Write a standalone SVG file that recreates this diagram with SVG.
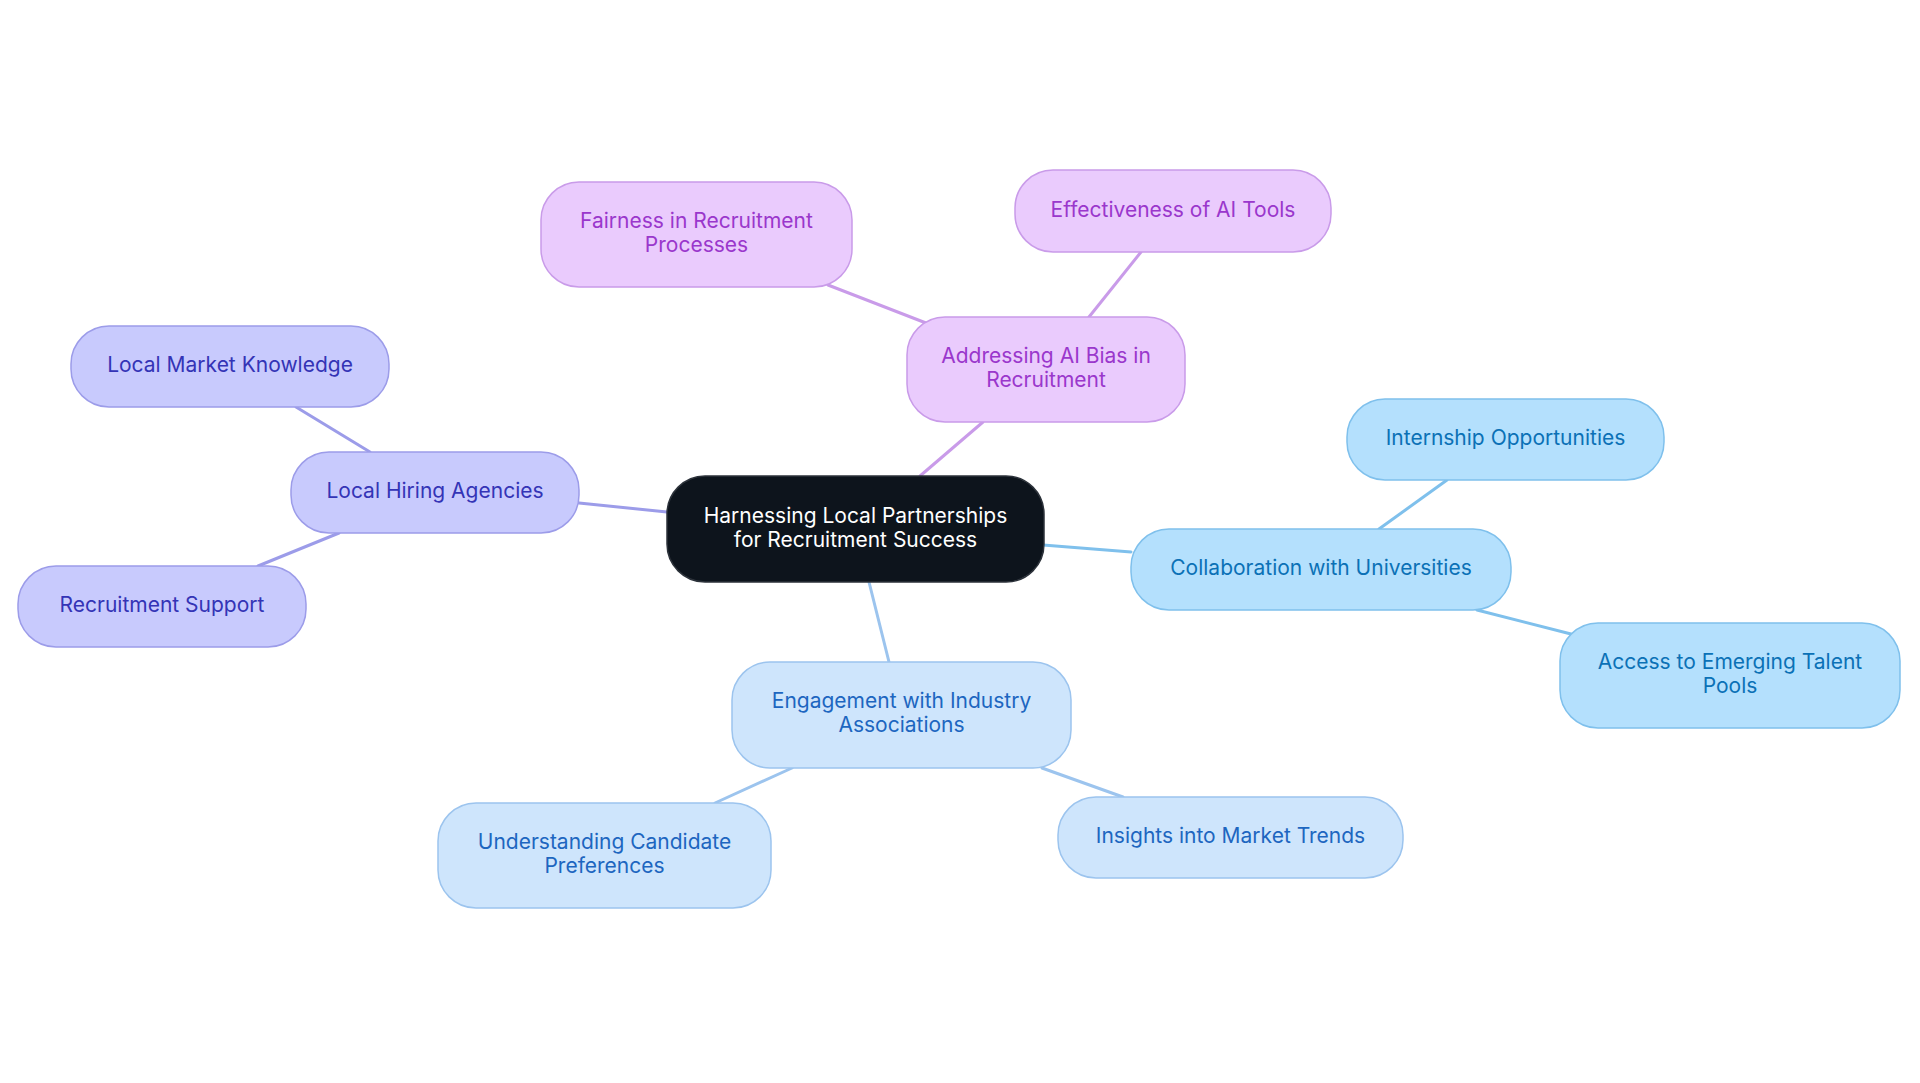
<svg xmlns="http://www.w3.org/2000/svg" width="1920" height="1083" viewBox="0 0 1920 1083">
<style>
text{font-family:Inter,"Noto Sans","Liberation Sans",sans-serif;font-size:21px;text-anchor:middle;dominant-baseline:central}
.c path{fill:none;stroke-width:3;stroke-linecap:round}
.pu rect{fill:#eacbfd;stroke:#c99be9;stroke-width:1.5}
.pu text{fill:#9a37cc}
.la rect{fill:#c8cafd;stroke:#9c9ce9;stroke-width:1.5}
.la text{fill:#3434b6}
.bl rect{fill:#b4e0fd;stroke:#7fc0ec;stroke-width:1.5}
.bl text{fill:#0b71b6}
.pb rect{fill:#cee5fc;stroke:#9cc4ee;stroke-width:1.5}
.pb text{fill:#1d66c0}
.ce rect{fill:#0d141c;stroke:#2c323a;stroke-width:1.5}
.ce text{fill:#ffffff}
</style>
<rect width="1920" height="1083" fill="#ffffff"/>
<g id="connectors" class="c">
<path d="M920,476 L983,422" stroke="#c99be9"/>
<path d="M926,323 L828,285" stroke="#c99be9"/>
<path d="M1089,317 L1141,252" stroke="#c99be9"/>
<path d="M667,512 L579,503" stroke="#9c9ce9"/>
<path d="M370,452 L296,407" stroke="#9c9ce9"/>
<path d="M339,533 L258,566" stroke="#9c9ce9"/>
<path d="M1043,545 L1131,552" stroke="#7fc0ec"/>
<path d="M1379,529 L1447,480" stroke="#7fc0ec"/>
<path d="M1477,610 L1571,634" stroke="#7fc0ec"/>
<path d="M869,582 L889,662" stroke="#9cc4ee"/>
<path d="M792,768 L715,803" stroke="#9cc4ee"/>
<path d="M1042,768 L1123,797" stroke="#9cc4ee"/>
</g>
<g id="center" class="ce">
<rect x="667" y="476" width="377" height="106" rx="38"/>
<text x="855.5" y="515">Harnessing Local Partnerships</text>
<text x="855.5" y="539">for Recruitment Success</text>
</g>
<g id="ai-bias" class="pu">
<rect x="907" y="317" width="278" height="105" rx="38"/>
<text x="1046" y="355">Addressing AI Bias in</text>
<text x="1046" y="379">Recruitment</text>
</g>
<g id="fairness" class="pu">
<rect x="541" y="182" width="311" height="105" rx="38"/>
<text x="696.5" y="220">Fairness in Recruitment</text>
<text x="696.5" y="244">Processes</text>
</g>
<g id="effectiveness" class="pu">
<rect x="1015" y="170" width="316" height="82" rx="38"/>
<text x="1173" y="209">Effectiveness of AI Tools</text>
</g>
<g id="local-hiring" class="la">
<rect x="291" y="452" width="288" height="81" rx="38"/>
<text x="435" y="490.5">Local Hiring Agencies</text>
</g>
<g id="local-market" class="la">
<rect x="71" y="326" width="318" height="81" rx="38"/>
<text x="230" y="364.5">Local Market Knowledge</text>
</g>
<g id="recruitment-support" class="la">
<rect x="18" y="566" width="288" height="81" rx="38"/>
<text x="162" y="604.5">Recruitment Support</text>
</g>
<g id="universities" class="bl">
<rect x="1131" y="529" width="380" height="81" rx="38"/>
<text x="1321" y="567.5">Collaboration with Universities</text>
</g>
<g id="internship" class="bl">
<rect x="1347" y="399" width="317" height="81" rx="38"/>
<text x="1505.5" y="437.5">Internship Opportunities</text>
</g>
<g id="emerging-talent" class="bl">
<rect x="1560" y="623" width="340" height="105" rx="38"/>
<text x="1730" y="661">Access to Emerging Talent</text>
<text x="1730" y="685">Pools</text>
</g>
<g id="industry" class="pb">
<rect x="732" y="662" width="339" height="106" rx="38"/>
<text x="901.5" y="700">Engagement with Industry</text>
<text x="901.5" y="724">Associations</text>
</g>
<g id="candidate-preferences" class="pb">
<rect x="438" y="803" width="333" height="105" rx="38"/>
<text x="604.5" y="841">Understanding Candidate</text>
<text x="604.5" y="865">Preferences</text>
</g>
<g id="market-trends" class="pb">
<rect x="1058" y="797" width="345" height="81" rx="38"/>
<text x="1230.5" y="835.5">Insights into Market Trends</text>
</g>
</svg>
